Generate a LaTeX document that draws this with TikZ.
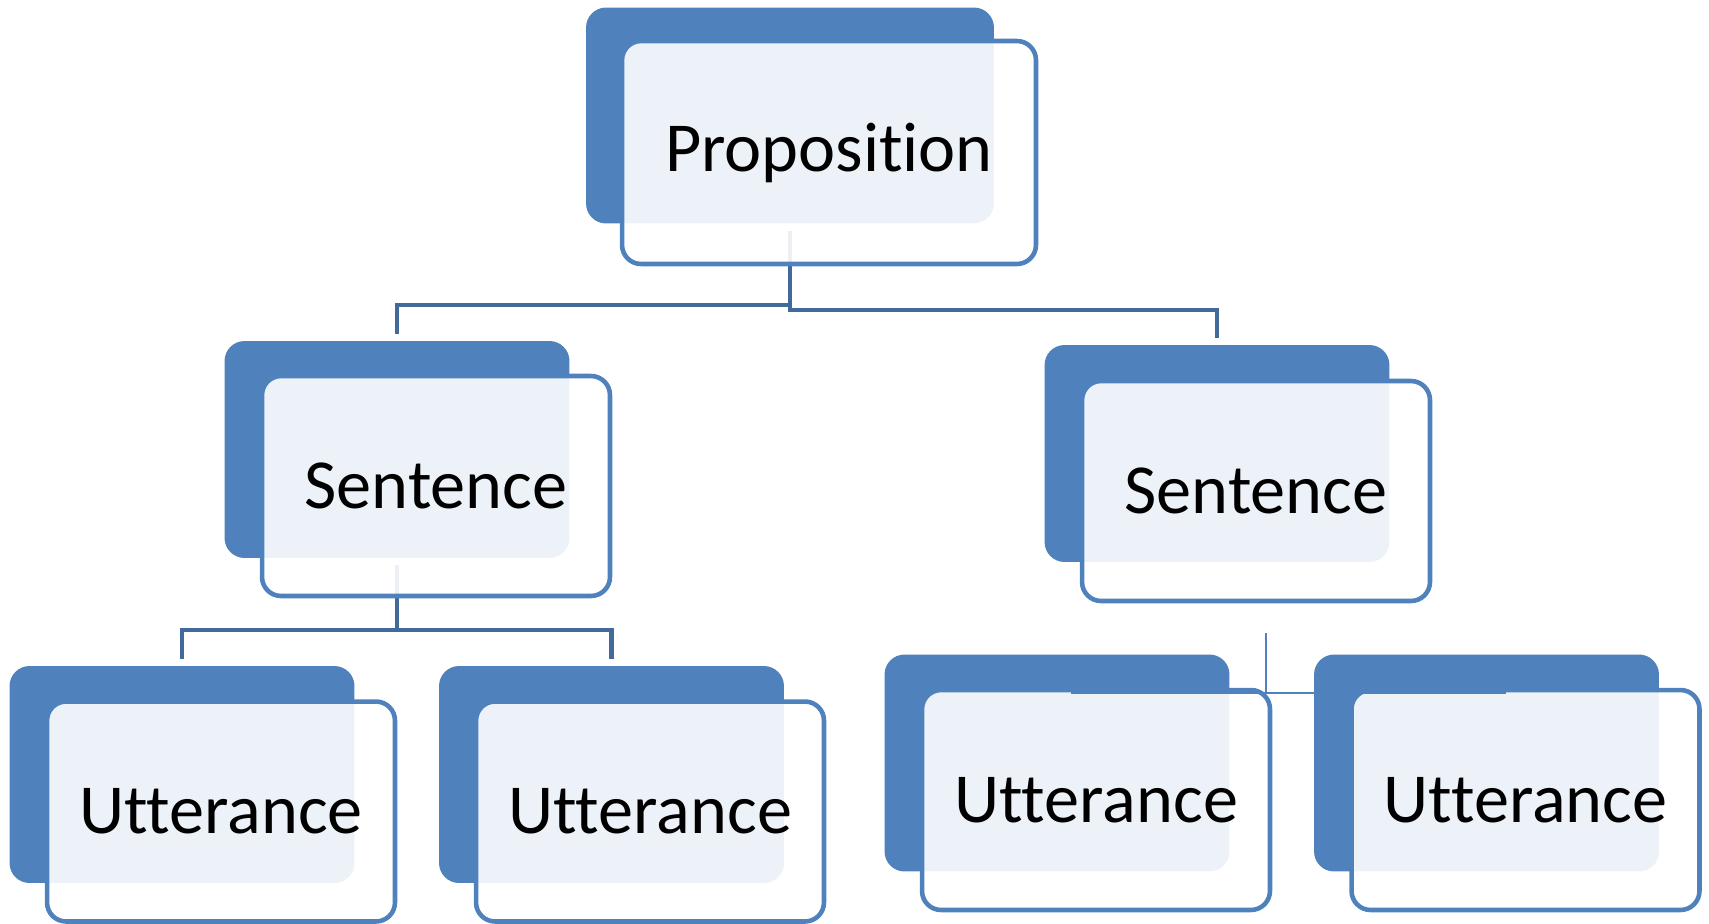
\documentclass[tikz,border=0pt]{standalone}
\usepackage{fontspec}
\setmainfont{Carlito}[Ligatures=NoCommon]
\usepackage{tikz}
\definecolor{boxblue}{HTML}{4F81BD}
\definecolor{linkblue}{HTML}{41699C}
\tikzset{
  backbox/.style={fill=boxblue, rounded corners=0.4cm, minimum width=6.9cm, minimum height=4.34cm, inner sep=0pt},
  frontbox/.style={draw=boxblue, line width=2.6pt, fill=white, fill opacity=0.9, text opacity=1, rounded corners=0.38cm,
    minimum width=6.96cm, minimum height=4.4cm, inner sep=0pt, font=\fontsize{40}{48}\selectfont},
  link/.style={linkblue, line width=2.3pt, shorten <=0.14cm, shorten >=0.14cm},
  thinlink/.style={boxblue, line width=1.1pt}
}

\begin{document}
\begin{tikzpicture}[x=0.02cm,y=-0.02cm]
 \useasboundingbox (0,0) rectangle (1709,923);

 % dark back panels
 \node[backbox, minimum width=8.16cm, minimum height=4.32cm] (prop-bg) at (790,115.5) {};
 \node[backbox] (sentA-bg) at (397,449.5) {};
 \node[backbox] (sentB-bg) at (1217,453.5) {};
 \node[backbox] (uttA-bg) at (182,774.5) {};
 \node[backbox] (uttB-bg) at (611.5,774.5) {};
 \node[backbox] (uttC-bg) at (1057,763) {};
 \node[backbox] (uttD-bg) at (1486.5,763) {};

 % tree lines
 \draw[link] (prop-bg.south) -- (prop-bg.south |- 0,310) -| (sentB-bg.north);
 \draw[link, shorten <=0pt] (prop-bg.south |- 0,305) -| (sentA-bg.north);
 \draw[link] (sentA-bg.south) -- (sentA-bg.south |- 0,630) -| (uttB-bg.north);
 \draw[link, shorten <=0pt] (sentA-bg.south |- 0,630) -| (uttA-bg.north);

 % front panels with the labels
 \node[frontbox, minimum width=8.28cm, minimum height=4.46cm] (prop) at (829,152.5) {Proposition};
 \node[frontbox] (sentA) at (436,486) {Sentence};
 \node[frontbox] (sentB) at (1256,491) {Sentence};
 \node[frontbox] (uttA) at (221,811.5) {Utterance};
 \node[frontbox] (uttB) at (650,811.5) {Utterance};
 \node[frontbox] (uttC) at (1096,800) {Utterance};
 \node[frontbox] (uttD) at (1525.5,800) {Utterance};

 \coordinate (topB) at (1266,633);
 \coordinate (knotB) at (1266,693);
 \coordinate (endC) at (1071,693);
 \coordinate (endD) at (1506,693);
 \draw[thinlink] (topB) -- (knotB);
 \draw[thinlink] (endC) -- (endD);

\end{tikzpicture}
\end{document}
